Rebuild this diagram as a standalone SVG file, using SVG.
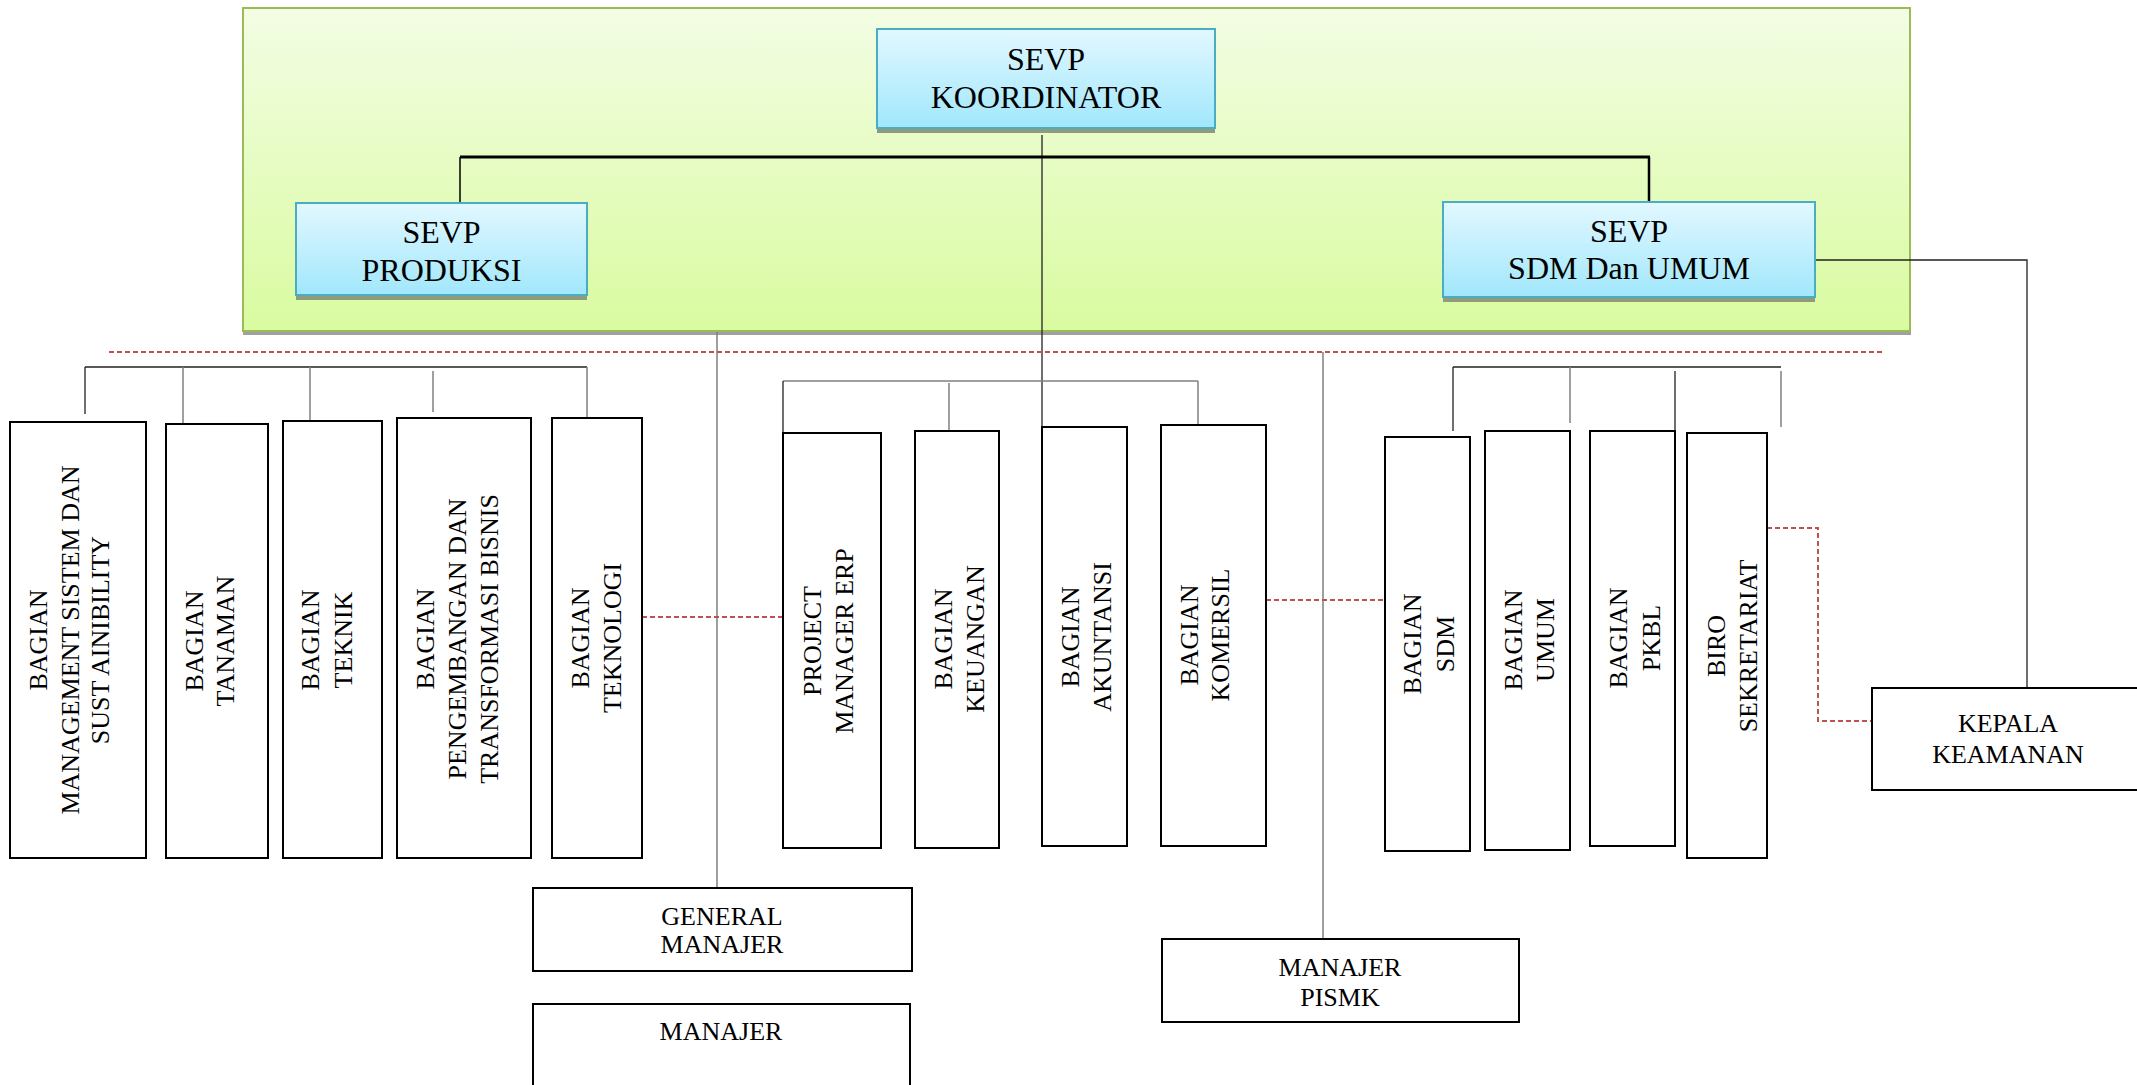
<svg xmlns="http://www.w3.org/2000/svg" width="2137" height="1085" viewBox="0 0 2137 1085">
<defs>
<linearGradient id="gGreen" x1="0" y1="0" x2="0" y2="1">
<stop offset="0" stop-color="#f3fde4"/>
<stop offset="1" stop-color="#d9fba0"/>
</linearGradient>
<linearGradient id="gBlue" x1="0" y1="0" x2="0" y2="1">
<stop offset="0" stop-color="#e2f8ff"/>
<stop offset="1" stop-color="#a1e7fc"/>
</linearGradient>
<style>
.t{font-family:"Liberation Serif","Times New Roman",serif;fill:#000;text-anchor:middle}
.big{font-size:32px}
.sm{font-size:26px}
.box{fill:#fff;stroke:#000;stroke-width:2}
.blue{fill:url(#gBlue);stroke:#4bacc6;stroke-width:2}
.shadow{fill:#8e9c7c}
.ln{stroke:#222;stroke-width:1.3;fill:none}
.gr{stroke:#7f7f7f;stroke-width:1.5;fill:none}
.red{stroke:#c0504d;stroke-width:2;stroke-dasharray:5 3;fill:none}
</style>
</defs>
<rect width="2137" height="1085" fill="#fff"/>

<g id="panel">
<rect x="243" y="10" width="1668" height="325" fill="#a0a0a0"/>
<rect x="243" y="8" width="1667" height="323" fill="url(#gGreen)" stroke="#9bbb59" stroke-width="2"/>
</g>

<g id="connectors">
<line class="ln" x1="1042" y1="135" x2="1042" y2="427"/>
<line x1="460" y1="157" x2="1650" y2="157" stroke="#000" stroke-width="3"/>
<line x1="460" y1="157" x2="460" y2="204" stroke="#000" stroke-width="1.5"/>
<line x1="1649" y1="157" x2="1649" y2="208" stroke="#000" stroke-width="2.5"/>
<polyline class="ln" points="1815,260 2027,260 2027,688"/>
<line class="gr" x1="717" y1="332" x2="717" y2="888"/>
<line class="gr" x1="1323" y1="352" x2="1323" y2="939"/>
<line class="red" x1="109" y1="352" x2="1882" y2="352"/>
<line class="red" x1="642" y1="617" x2="783" y2="617"/>
<line class="red" x1="1266" y1="600" x2="1385" y2="600"/>
<polyline class="red" points="1767,528 1818,528 1818,721 1872,721"/>
<line class="ln" x1="85" y1="367" x2="587" y2="367"/>
<line class="ln" x1="85" y1="367" x2="85" y2="414"/>
<line class="gr" x1="183" y1="367" x2="183" y2="424"/>
<line class="gr" x1="310" y1="367" x2="310" y2="421"/>
<line class="gr" x1="433" y1="371" x2="433" y2="412"/>
<line class="gr" x1="587" y1="367" x2="587" y2="421"/>
<line class="gr" x1="783" y1="381" x2="1198" y2="381"/>
<line class="ln" x1="783" y1="381" x2="783" y2="433"/>
<line class="gr" x1="949" y1="383" x2="949" y2="431"/>
<line class="gr" x1="1198" y1="381" x2="1198" y2="425"/>
<line class="ln" x1="1453" y1="367" x2="1781" y2="367"/>
<line class="ln" x1="1453" y1="367" x2="1453" y2="431"/>
<line class="gr" x1="1570" y1="367" x2="1570" y2="423"/>
<line class="ln" x1="1675" y1="371" x2="1675" y2="431"/>
<line class="gr" x1="1781" y1="371" x2="1781" y2="427"/>
</g>

<g id="koordinator">
<rect class="shadow" x="877" y="32" width="338" height="101"/>
<rect class="blue" x="877" y="29" width="338" height="99"/>
<text class="t big" x="1046" y="70">SEVP</text>
<text class="t big" x="1046" y="108">KOORDINATOR</text>
</g>
<g id="produksi">
<rect class="shadow" x="296" y="206" width="291" height="94"/>
<rect class="blue" x="296" y="203" width="291" height="92"/>
<text class="t big" x="441.5" y="243">SEVP</text>
<text class="t big" x="441.5" y="281">PRODUKSI</text>
</g>
<g id="sdmumum">
<rect class="shadow" x="1443" y="205" width="372" height="97"/>
<rect class="blue" x="1443" y="202" width="372" height="95"/>
<text class="t big" x="1629" y="242">SEVP</text>
<text class="t big" x="1629" y="279">SDM Dan UMUM</text>
</g>

<g id="b-management">
<rect class="box" x="10" y="422" width="136" height="436"/>
<text class="t sm" transform="translate(47,640) rotate(-90)">BAGIAN</text>
<text class="t sm" transform="translate(79,640) rotate(-90)">MANAGEMENT SISTEM DAN</text>
<text class="t sm" transform="translate(109,640) rotate(-90)">SUST AINIBILITY</text>
</g>
<g id="b-tanaman">
<rect class="box" x="166" y="424" width="102" height="434"/>
<text class="t sm" transform="translate(203,641) rotate(-90)">BAGIAN</text>
<text class="t sm" transform="translate(234,641) rotate(-90)">TANAMAN</text>
</g>
<g id="b-teknik">
<rect class="box" x="283" y="421" width="99" height="437"/>
<text class="t sm" transform="translate(319,640) rotate(-90)">BAGIAN</text>
<text class="t sm" transform="translate(352,640) rotate(-90)">TEKNIK</text>
</g>
<g id="b-pengembangan">
<rect class="box" x="397" y="418" width="134" height="440"/>
<text class="t sm" transform="translate(434,639) rotate(-90)">BAGIAN</text>
<text class="t sm" transform="translate(466,639) rotate(-90)">PENGEMBANGAN DAN</text>
<text class="t sm" transform="translate(498,639) rotate(-90)">TRANSFORMASI BISNIS</text>
</g>
<g id="b-teknologi">
<rect class="box" x="552" y="418" width="90" height="440"/>
<text class="t sm" transform="translate(589,638) rotate(-90)">BAGIAN</text>
<text class="t sm" transform="translate(621,638) rotate(-90)">TEKNOLOGI</text>
</g>
<g id="b-erp">
<rect class="box" x="783" y="433" width="98" height="415"/>
<text class="t sm" transform="translate(821,641) rotate(-90)">PROJECT</text>
<text class="t sm" transform="translate(853,641) rotate(-90)">MANAGER ERP</text>
</g>
<g id="b-keuangan">
<rect class="box" x="915" y="431" width="84" height="417"/>
<text class="t sm" transform="translate(952,639) rotate(-90)">BAGIAN</text>
<text class="t sm" transform="translate(984,639) rotate(-90)">KEUANGAN</text>
</g>
<g id="b-akuntansi">
<rect class="box" x="1042" y="427" width="85" height="419"/>
<text class="t sm" transform="translate(1079,637) rotate(-90)">BAGIAN</text>
<text class="t sm" transform="translate(1111,637) rotate(-90)">AKUNTANSI</text>
</g>
<g id="b-komersil">
<rect class="box" x="1161" y="425" width="105" height="421"/>
<text class="t sm" transform="translate(1198,635) rotate(-90)">BAGIAN</text>
<text class="t sm" transform="translate(1229,635) rotate(-90)">KOMERSIL</text>
</g>
<g id="b-sdm">
<rect class="box" x="1385" y="437" width="85" height="414"/>
<text class="t sm" transform="translate(1421,644) rotate(-90)">BAGIAN</text>
<text class="t sm" transform="translate(1454,644) rotate(-90)">SDM</text>
</g>
<g id="b-umum">
<rect class="box" x="1485" y="431" width="85" height="419"/>
<text class="t sm" transform="translate(1522,640) rotate(-90)">BAGIAN</text>
<text class="t sm" transform="translate(1554,640) rotate(-90)">UMUM</text>
</g>
<g id="b-pkbl">
<rect class="box" x="1590" y="431" width="85" height="415"/>
<text class="t sm" transform="translate(1627,638) rotate(-90)">BAGIAN</text>
<text class="t sm" transform="translate(1660,638) rotate(-90)">PKBL</text>
</g>
<g id="b-biro">
<rect class="box" x="1687" y="433" width="80" height="425"/>
<text class="t sm" transform="translate(1725,646) rotate(-90)">BIRO</text>
<text class="t sm" transform="translate(1757,646) rotate(-90)">SEKRETARIAT</text>
</g>

<g id="kepala">
<rect class="box" x="1872" y="688" width="266" height="102"/>
<text class="t sm" x="2008" y="732">KEPALA</text>
<text class="t sm" x="2008" y="763">KEAMANAN</text>
</g>
<g id="gm">
<rect class="box" x="533" y="888" width="379" height="83"/>
<text class="t sm" x="722" y="925">GENERAL</text>
<text class="t sm" x="722" y="953">MANAJER</text>
</g>
<g id="manajer">
<rect class="box" x="533" y="1004" width="377" height="95"/>
<text class="t sm" x="721" y="1040">MANAJER</text>
</g>
<g id="pismk">
<rect class="box" x="1162" y="939" width="357" height="83"/>
<text class="t sm" x="1340" y="976">MANAJER</text>
<text class="t sm" x="1340" y="1006">PISMK</text>
</g>
</svg>
